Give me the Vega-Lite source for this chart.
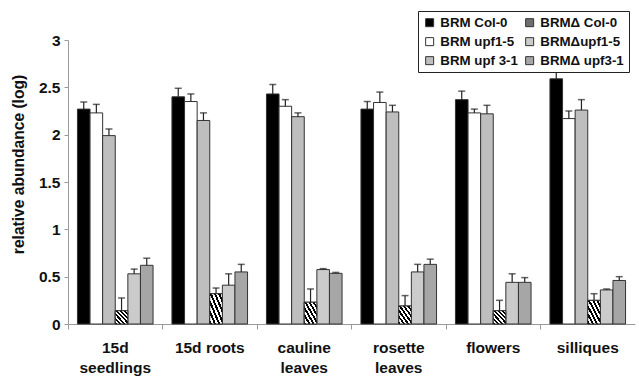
{
  "$schema": "https://vega.github.io/schema/vega-lite/v6.json",
  "width": 567,
  "height": 284,
  "autosize": {"type": "none"},
  "padding": {"left": 68, "top": 40, "right": 4, "bottom": 55},
  "background": "white",
  "config": {
    "view": {"stroke": null},
    "font": "Liberation Sans",
    "axis": {
      "grid": false,
      "domainColor": "#9a9a9a",
      "tickColor": "#9a9a9a",
      "labelFont": "Liberation Sans",
      "labelFontWeight": "bold",
      "labelColor": "#111",
      "titleFont": "Liberation Sans",
      "titleFontWeight": "bold",
      "titleColor": "#111"
    }
  },
  "data": {
    "values": [
      {"tissue": "15d seedlings", "line": "BRM Col-0", "value": 2.27, "upper": 2.345},
      {"tissue": "15d seedlings", "line": "BRM upf1-5", "value": 2.23, "upper": 2.32},
      {"tissue": "15d seedlings", "line": "BRM upf 3-1", "value": 1.99, "upper": 2.06},
      {"tissue": "15d seedlings", "line": "BRMΔ Col-0", "value": 0.14, "upper": 0.275},
      {"tissue": "15d seedlings", "line": "BRMΔupf1-5", "value": 0.53, "upper": 0.58},
      {"tissue": "15d seedlings", "line": "BRMΔ upf3-1", "value": 0.62, "upper": 0.695},
      {"tissue": "15d roots", "line": "BRM Col-0", "value": 2.40, "upper": 2.49},
      {"tissue": "15d roots", "line": "BRM upf1-5", "value": 2.35, "upper": 2.43},
      {"tissue": "15d roots", "line": "BRM upf 3-1", "value": 2.15, "upper": 2.23},
      {"tissue": "15d roots", "line": "BRMΔ Col-0", "value": 0.32, "upper": 0.38},
      {"tissue": "15d roots", "line": "BRMΔupf1-5", "value": 0.41, "upper": 0.53},
      {"tissue": "15d roots", "line": "BRMΔ upf3-1", "value": 0.55, "upper": 0.63},
      {"tissue": "cauline leaves", "line": "BRM Col-0", "value": 2.43, "upper": 2.53},
      {"tissue": "cauline leaves", "line": "BRM upf1-5", "value": 2.30, "upper": 2.37},
      {"tissue": "cauline leaves", "line": "BRM upf 3-1", "value": 2.19, "upper": 2.23},
      {"tissue": "cauline leaves", "line": "BRMΔ Col-0", "value": 0.23, "upper": 0.37},
      {"tissue": "cauline leaves", "line": "BRMΔupf1-5", "value": 0.575, "upper": 0.585},
      {"tissue": "cauline leaves", "line": "BRMΔ upf3-1", "value": 0.535, "upper": 0.545},
      {"tissue": "rosette leaves", "line": "BRM Col-0", "value": 2.27, "upper": 2.35},
      {"tissue": "rosette leaves", "line": "BRM upf1-5", "value": 2.34, "upper": 2.45},
      {"tissue": "rosette leaves", "line": "BRM upf 3-1", "value": 2.24, "upper": 2.31},
      {"tissue": "rosette leaves", "line": "BRMΔ Col-0", "value": 0.19, "upper": 0.30},
      {"tissue": "rosette leaves", "line": "BRMΔupf1-5", "value": 0.55, "upper": 0.63},
      {"tissue": "rosette leaves", "line": "BRMΔ upf3-1", "value": 0.63, "upper": 0.685},
      {"tissue": "flowers", "line": "BRM Col-0", "value": 2.37, "upper": 2.46},
      {"tissue": "flowers", "line": "BRM upf1-5", "value": 2.23, "upper": 2.27},
      {"tissue": "flowers", "line": "BRM upf 3-1", "value": 2.22, "upper": 2.31},
      {"tissue": "flowers", "line": "BRMΔ Col-0", "value": 0.14, "upper": 0.25},
      {"tissue": "flowers", "line": "BRMΔupf1-5", "value": 0.44, "upper": 0.53},
      {"tissue": "flowers", "line": "BRMΔ upf3-1", "value": 0.44, "upper": 0.49},
      {"tissue": "silliques", "line": "BRM Col-0", "value": 2.59, "upper": 2.67},
      {"tissue": "silliques", "line": "BRM upf1-5", "value": 2.17, "upper": 2.25},
      {"tissue": "silliques", "line": "BRM upf 3-1", "value": 2.26, "upper": 2.37},
      {"tissue": "silliques", "line": "BRMΔ Col-0", "value": 0.25, "upper": 0.32},
      {"tissue": "silliques", "line": "BRMΔupf1-5", "value": 0.36, "upper": 0.37},
      {"tissue": "silliques", "line": "BRMΔ upf3-1", "value": 0.46, "upper": 0.50}
    ]
  },
  "encoding": {
    "x": {
      "field": "tissue",
      "type": "nominal",
      "sort": ["15d seedlings", "15d roots", "cauline leaves", "rosette leaves", "flowers", "silliques"],
      "scale": {"paddingInner": 0, "paddingOuter": 0},
      "axis": {
        "title": null,
        "labelAngle": 0,
        "labelFontSize": 15.5,
        "labelLineHeight": 20,
        "labelPadding": 11,
        "tickSize": 5,
        "bandPosition": 0,
        "labelExpr": "datum.value == '15d roots' ? datum.value : split(datum.value, ' ')"
      }
    },
    "xOffset": {
      "field": "line",
      "type": "nominal",
      "sort": ["BRM Col-0", "BRM upf1-5", "BRM upf 3-1", "BRMΔ Col-0", "BRMΔupf1-5", "BRMΔ upf3-1"],
      "scale": {"paddingInner": 0, "paddingOuter": 0.75}
    }
  },
  "layer": [
    {
      "mark": {"type": "bar", "stroke": "#333", "strokeWidth": 1},
      "encoding": {
        "y": {
          "field": "value",
          "type": "quantitative",
          "scale": {"domain": [0, 3], "nice": false},
          "axis": {
            "title": "relative abundance (log)",
            "titleFontSize": 15.6,
            "titleX": -42,
            "titleY": 124,
            "titleAlign": "center",
            "values": [0, 0.5, 1, 1.5, 2, 2.5, 3],
            "format": "~g",
            "labelFontSize": 15.5,
            "tickSize": 4,
            "labelPadding": 4
          }
        },
        "fill": {
          "field": "line",
          "type": "nominal",
          "scale": {
            "domain": ["BRM Col-0", "BRM upf1-5", "BRM upf 3-1", "BRMΔ Col-0", "BRMΔupf1-5", "BRMΔ upf3-1"],
            "range": ["#000000", "#ffffff", "#bebebe", "#6e6e6e", "#cbcbcb", "#a6a6a6"]
          },
          "legend": {
            "orient": "none",
            "legendX": 350,
            "legendY": -29,
            "title": null,
            "columns": 2,
            "columnPadding": 5,
            "rowPadding": 5,
            "padding": 5,
            "strokeColor": "#222",
            "fillColor": "white",
            "symbolType": "square",
            "symbolSize": 64,
            "symbolStrokeColor": "#333",
            "symbolStrokeWidth": 1,
            "labelOffset": 4,
            "labelFont": "Liberation Sans",
            "labelFontWeight": "bold",
            "labelFontSize": 13.3,
            "labelColor": "#111",
            "labelLimit": 200
          }
        }
      }
    },
    {
      "transform": [{"filter": "datum.line === 'BRMΔ Col-0'"}],
      "mark": {
        "type": "bar",
        "stroke": "#333",
        "strokeWidth": 1,
        "fill": {"gradient": "linear", "x1": 0, "y1": 1, "x2": 1, "y2": 0, "stops": [
          {"offset": 0, "color": "#000"}, {"offset": 0.083, "color": "#000"},
          {"offset": 0.083, "color": "#fff"}, {"offset": 0.167, "color": "#fff"},
          {"offset": 0.167, "color": "#000"}, {"offset": 0.25, "color": "#000"},
          {"offset": 0.25, "color": "#fff"}, {"offset": 0.333, "color": "#fff"},
          {"offset": 0.333, "color": "#000"}, {"offset": 0.417, "color": "#000"},
          {"offset": 0.417, "color": "#fff"}, {"offset": 0.5, "color": "#fff"},
          {"offset": 0.5, "color": "#000"}, {"offset": 0.583, "color": "#000"},
          {"offset": 0.583, "color": "#fff"}, {"offset": 0.667, "color": "#fff"},
          {"offset": 0.667, "color": "#000"}, {"offset": 0.75, "color": "#000"},
          {"offset": 0.75, "color": "#fff"}, {"offset": 0.833, "color": "#fff"},
          {"offset": 0.833, "color": "#000"}, {"offset": 0.917, "color": "#000"},
          {"offset": 0.917, "color": "#fff"}, {"offset": 1, "color": "#fff"}
        ]}
      },
      "encoding": {
        "y": {"field": "value", "type": "quantitative"}
      }
    },
    {
      "mark": {"type": "rule", "color": "#222", "strokeWidth": 1.2},
      "encoding": {
        "y": {"field": "value", "type": "quantitative"},
        "y2": {"field": "upper"}
      }
    },
    {
      "mark": {"type": "tick", "color": "#222", "thickness": 1.5, "size": 7},
      "encoding": {
        "y": {"field": "upper", "type": "quantitative"}
      }
    }
  ]
}
